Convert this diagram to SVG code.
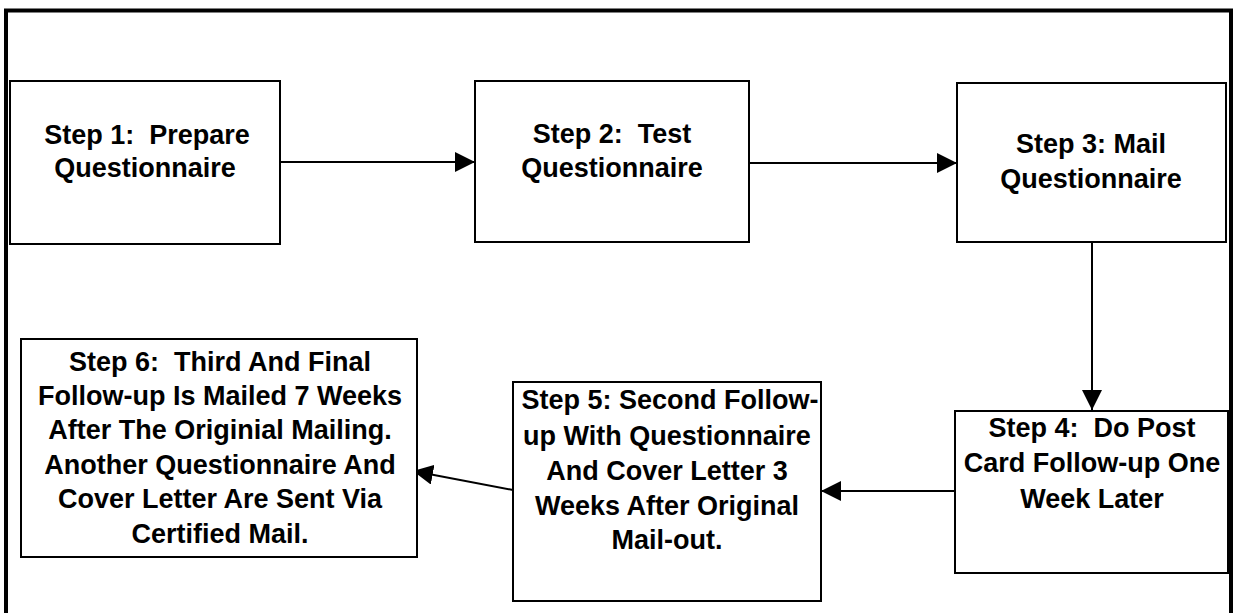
<svg xmlns="http://www.w3.org/2000/svg" width="1238" height="613" viewBox="0 0 1238 613">
<style>
.box{fill:#fff;stroke:#000;stroke-width:2}
.t{font-family:"Liberation Sans",Arial,sans-serif;font-weight:bold;font-size:27px;fill:#000;text-anchor:middle;white-space:pre}
.c{fill:none;stroke:#000;stroke-width:2}
</style>
<defs>
<marker id="ah" markerUnits="userSpaceOnUse" markerWidth="20" markerHeight="20" refX="20" refY="10" orient="auto">
<path d="M0,0 L20,10 L0,20 z" fill="#000"/>
</marker>
<clipPath id="clip5"><rect x="514" y="383" width="306" height="217"/></clipPath>
</defs>
<rect x="6" y="10.5" width="1225" height="620" fill="#fff" stroke="#000" stroke-width="4"/>
<g id="connectors">
<line class="c" x1="280" y1="162" x2="475" y2="162" marker-end="url(#ah)"/>
<line class="c" x1="749" y1="163" x2="957" y2="163" marker-end="url(#ah)"/>
<line class="c" x1="1092" y1="242" x2="1092" y2="410" marker-end="url(#ah)"/>
<line class="c" x1="955" y1="491" x2="821" y2="491" marker-end="url(#ah)"/>
<line class="c" x1="513" y1="490" x2="413" y2="471" marker-end="url(#ah)"/>
</g>
<g id="step1">
<rect class="box" x="10" y="81" width="270" height="163"/>
<text class="t" x="147" y="144" xml:space="preserve">Step 1:  Prepare</text>
<text class="t" x="145" y="177">Questionnaire</text>
</g>
<g id="step2">
<rect class="box" x="475" y="81" width="274" height="161"/>
<text class="t" x="612" y="143" xml:space="preserve">Step 2:  Test</text>
<text class="t" x="612" y="177">Questionnaire</text>
</g>
<g id="step3">
<rect class="box" x="957" y="83" width="269" height="159"/>
<text class="t" x="1091" y="153">Step 3: Mail</text>
<text class="t" x="1091" y="188">Questionnaire</text>
</g>
<g id="step4">
<rect class="box" x="955" y="411" width="273" height="162"/>
<text class="t" x="1092" y="437" xml:space="preserve">Step 4:  Do Post</text>
<text class="t" x="1092" y="472">Card Follow-up One</text>
<text class="t" x="1092" y="508">Week Later</text>
</g>
<g id="step5">
<rect class="box" x="513" y="382" width="308" height="219"/>
<g clip-path="url(#clip5)">
<text class="t" x="670" y="409">Step 5: Second Follow-</text>
<text class="t" x="667" y="445">up With Questionnaire</text>
<text class="t" x="667" y="480">And Cover Letter 3</text>
<text class="t" x="667" y="515">Weeks After Original</text>
<text class="t" x="667" y="549">Mail-out.</text>
</g>
</g>
<g id="step6">
<rect class="box" x="21" y="339" width="396" height="218"/>
<text class="t" x="220" y="371" xml:space="preserve">Step 6:  Third And Final</text>
<text class="t" x="220" y="405">Follow-up Is Mailed 7 Weeks</text>
<text class="t" x="220" y="439">After The Originial Mailing.</text>
<text class="t" x="220" y="474">Another Questionnaire And</text>
<text class="t" x="220" y="508">Cover Letter Are Sent Via</text>
<text class="t" x="220" y="543">Certified Mail.</text>
</g>
</svg>
